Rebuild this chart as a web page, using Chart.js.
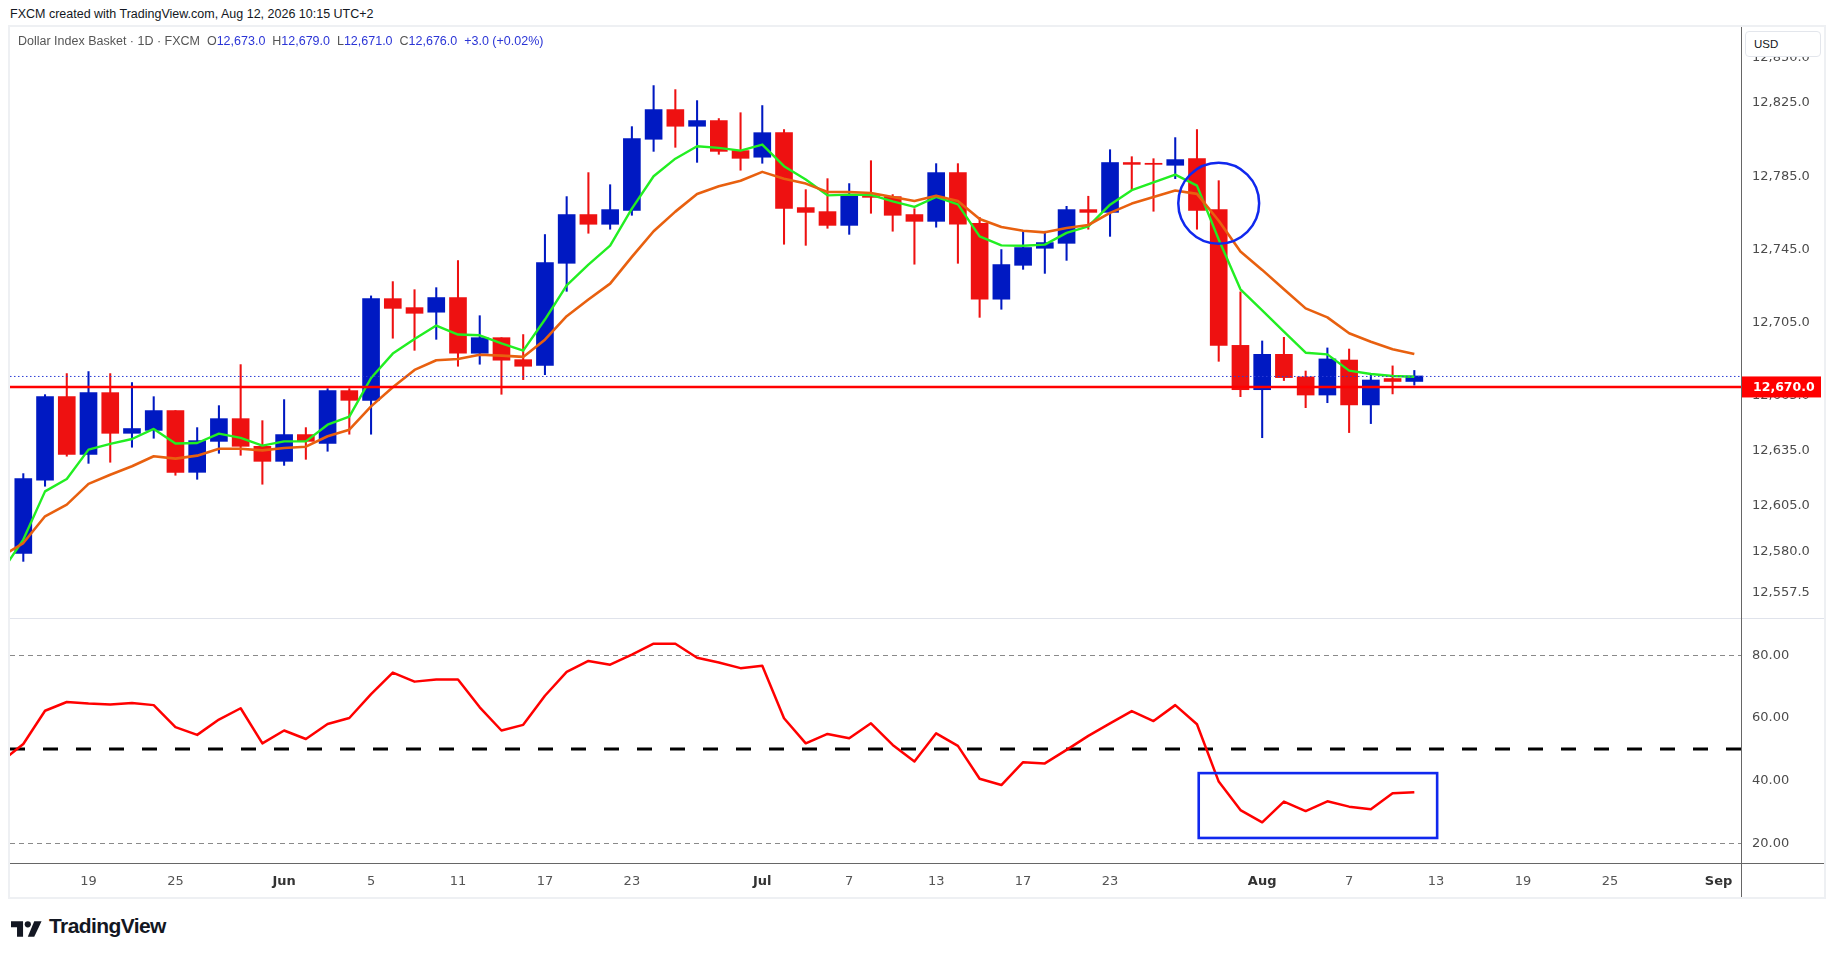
<!DOCTYPE html>
<html>
<head>
<meta charset="utf-8">
<title>Dollar Index Basket - 1D</title>
<script src="https://cdn.jsdelivr.net/npm/chart.js@4.4.1/dist/chart.umd.min.js"></script>
<style>
  body { margin: 0; background: #fff; width: 1835px; height: 959px; position: relative; overflow: hidden;
         font-family: "Liberation Sans", Arial, sans-serif; }
  .abs { position: absolute; }
  #header { left: 10px; top: 7px; font-size: 12.5px; color: #131722; white-space: pre; }
  #frame { left: 8px; top: 25px; width: 1814px; height: 870px; border: 2px solid #eef0f3; }
  #legend { left: 18px; top: 34px; font-size: 12.5px; color: #555; white-space: pre; z-index: 5; }
  #legend .v { color: #2b35d6; }
  #priceCanvas { left: 10px; top: 27px; }
  #rsiCanvas { left: 10px; top: 619px; }
  #axisV { left: 1741px; top: 27px; width: 1px; height: 870px; background: #666; z-index: 4; }
  #axisH { left: 10px; top: 863px; width: 1814px; height: 1px; background: #666; z-index: 4; }
  #paneSep { left: 10px; top: 618px; width: 1814px; height: 1px; background: #e0e3eb; z-index: 4; }
  #usd { left: 1745px; top: 31px; width: 74px; height: 24px; border: 1px solid #e3e6ec; border-radius: 4px;
         background: #fff; font-size: 11.5px; color: #131722; line-height: 24px; padding-left: 0; z-index: 6; }
  #usd span { margin-left: 8px; }
  #logoText { left: 49px; top: 914px; font-size: 21px; font-weight: bold; color: #131722; letter-spacing: -0.6px; }
</style>
</head>
<body>
<div id="header" class="abs">FXCM created with TradingView.com, Aug 12, 2026 10:15 UTC+2</div>
<div id="frame" class="abs"></div>
<canvas id="priceCanvas" class="abs" width="1814" height="592"></canvas>
<canvas id="rsiCanvas" class="abs" width="1814" height="279"></canvas>
<div id="paneSep" class="abs"></div>
<div id="axisV" class="abs"></div>
<div id="axisH" class="abs"></div>
<div id="legend" class="abs"></div>
<div id="usd" class="abs"><span>USD</span></div>
<svg class="abs" style="left:11px;top:921px" width="31" height="16" viewBox="0 0 36 18">
  <path d="M0 0h14v18H7V7H0z" fill="#131722"/>
  <circle cx="19.5" cy="3.6" r="3.6" fill="#131722"/>
  <path d="M27 18h-7.5L27 0h8.5z" fill="#131722"/>
</svg>
<div id="logoText" class="abs">TradingView</div>

<script>
// daily bars, May 14 .. Aug 12 (Mon-Fri), bar index 0..64
var opens = [
  12579.2, 12619.1, 12664.7, 12633.2, 12666.9, 12644.7, 12646.3, 12657.1, 12623.4, 12640.3,
  12652.7, 12637.6, 12629.4, 12644.0, 12639.2, 12668.0, 12662.7, 12718.2, 12713.3, 12710.8,
  12718.8, 12688.4, 12696.9, 12684.9, 12681.8, 12737.5, 12764.1, 12758.8, 12766.4, 12805.2,
  12821.4, 12812.3, 12815.4, 12799.0, 12795.4, 12808.8, 12767.9, 12765.7, 12758.2, 12774.4,
  12773.9, 12764.1, 12760.4, 12787.0, 12759.3, 12717.9, 12736.4, 12745.7, 12748.4, 12766.8,
  12765.3, 12792.5, 12792.1, 12791.0, 12794.6, 12766.8, 12692.7, 12668.5, 12687.8, 12675.5,
  12665.6, 12684.7, 12660.2, 12674.6, 12673.0
];
var highs = [
  12622.7, 12665.8, 12677.3, 12678.4, 12677.3, 12672.4, 12664.7, 12657.1, 12647.8, 12659.8,
  12682.2, 12651.6, 12663.1, 12647.8, 12669.1, 12669.1, 12719.7, 12727.5, 12723.1, 12724.2,
  12739.0, 12708.9, 12696.9, 12698.6, 12753.2, 12773.9, 12787.0, 12780.4, 12812.1, 12834.5,
  12832.3, 12826.3, 12816.5, 12819.7, 12823.6, 12810.5, 12777.7, 12783.7, 12781.0, 12793.5,
  12775.0, 12767.3, 12791.9, 12791.9, 12762.6, 12745.0, 12755.0, 12755.0, 12768.6, 12774.1,
  12799.5, 12795.7, 12794.6, 12806.1, 12810.5, 12782.6, 12721.9, 12695.1, 12697.1, 12678.7,
  12691.3, 12690.7, 12676.6, 12681.5, 12679.0
];
var lows = [
  12574.8, 12615.8, 12632.2, 12628.3, 12628.9, 12637.1, 12642.0, 12621.8, 12619.6, 12633.8,
  12632.7, 12616.9, 12627.2, 12630.5, 12634.9, 12644.2, 12644.2, 12696.6, 12690.0, 12696.0,
  12681.3, 12682.4, 12666.0, 12674.0, 12676.7, 12722.2, 12753.9, 12756.1, 12763.7, 12798.6,
  12800.8, 12792.6, 12797.0, 12788.3, 12792.1, 12747.9, 12747.3, 12756.6, 12753.3, 12764.8,
  12755.0, 12737.0, 12757.2, 12737.5, 12708.0, 12712.4, 12734.2, 12732.0, 12739.1, 12756.1,
  12752.2, 12777.5, 12765.9, 12783.7, 12756.1, 12684.0, 12664.7, 12642.3, 12673.5, 12658.7,
  12661.4, 12645.1, 12650.0, 12666.2, 12671.0
];
var closes = [
  12620.0, 12664.7, 12633.2, 12666.9, 12644.7, 12647.3, 12657.1, 12623.4, 12640.7, 12652.7,
  12637.6, 12629.4, 12644.0, 12640.3, 12668.0, 12662.7, 12718.2, 12712.9, 12710.2, 12718.8,
  12688.4, 12696.9, 12684.6, 12681.3, 12737.9, 12764.1, 12758.8, 12766.8, 12805.6, 12821.4,
  12812.3, 12815.4, 12798.6, 12794.8, 12808.8, 12767.5, 12765.3, 12758.2, 12774.4, 12773.5,
  12763.7, 12760.4, 12787.0, 12758.8, 12717.9, 12736.8, 12746.1, 12748.8, 12766.8, 12765.3,
  12792.5, 12791.5, 12791.5, 12794.1, 12766.4, 12692.7, 12668.5, 12687.8, 12675.1, 12665.6,
  12685.3, 12660.2, 12673.8, 12673.0, 12676.0
];

// moving averages and RSI start one bar before the first visible candle
var firstLineBar = -1;
var fastMA = [
  12569.0, 12586.7, 12613.0, 12619.8, 12635.8, 12638.9, 12641.6, 12647.1, 12639.1, 12639.4,
  12644.5, 12642.2, 12638.0, 12640.3, 12640.3, 12649.4, 12653.8, 12674.9, 12688.2, 12696.2,
  12703.5, 12698.6, 12698.2, 12693.8, 12689.8, 12706.8, 12725.5, 12736.8, 12747.1, 12767.3,
  12785.0, 12794.6, 12801.4, 12800.5, 12799.0, 12802.3, 12790.5, 12783.2, 12774.6, 12775.0,
  12774.8, 12771.3, 12768.3, 12773.7, 12769.7, 12752.2, 12747.3, 12747.1, 12747.7, 12754.1,
  12757.7, 12769.5, 12777.4, 12781.7, 12785.9, 12779.9, 12750.5, 12723.3, 12711.8, 12700.2,
  12688.7, 12687.8, 12678.9, 12677.1, 12676.0, 12675.6
];
var slowMA = [
  12577.5, 12584.8, 12599.4, 12605.8, 12617.1, 12622.1, 12626.7, 12632.2, 12630.9, 12632.5,
  12636.3, 12636.3, 12635.4, 12636.7, 12637.4, 12643.1, 12646.7, 12659.4, 12669.8, 12679.3,
  12684.6, 12685.3, 12687.6, 12687.1, 12686.4, 12695.8, 12708.6, 12717.7, 12726.4, 12741.0,
  12755.0, 12765.7, 12775.3, 12779.5, 12782.6, 12787.4, 12783.7, 12781.0, 12776.4, 12776.4,
  12775.9, 12773.7, 12771.5, 12774.4, 12771.5, 12761.7, 12757.3, 12755.3, 12754.4, 12756.8,
  12758.4, 12765.0, 12770.1, 12773.7, 12777.2, 12775.4, 12760.7, 12743.9, 12733.9, 12723.3,
  12712.9, 12708.0, 12699.3, 12694.7, 12690.6, 12688.0
];
var rsiValues = [
  46.1, 51.7, 62.3, 65.1, 64.6, 64.3, 64.8, 64.1, 57.1, 54.6,
  59.5, 63.1, 51.9, 56.0, 53.3, 58.1, 60.0, 67.6, 74.5, 71.6,
  72.3, 72.3, 63.4, 56.0, 57.8, 67.1, 74.7, 78.2, 77.0, 80.2,
  83.7, 83.7, 79.2, 77.7, 75.9, 76.7, 59.9, 51.9, 54.9, 53.5,
  58.3, 51.4, 46.1, 55.1, 51.1, 40.6, 38.6, 45.9, 45.5, 49.8,
  54.3, 58.3, 62.2, 59.0, 64.1, 58.0, 39.7, 30.6, 26.7, 33.3,
  30.3, 33.4, 31.7, 30.9, 36.0, 36.3
];

var priceTicks = [12557.5, 12580, 12605, 12635, 12665, 12705, 12745, 12785, 12825, 12850];
var rsiTicks = [20, 40, 60, 80];
var rsiLevels = [80, 50, 20];
var timeTickBars = [3, 7, 12, 16, 20, 24, 28, 34, 38, 42, 46, 50, 57, 61, 65, 69, 73, 78];
var timeTickLabels = ['19', '25', 'Jun', '5', '11', '17', '23', 'Jul', '7', '13', '17', '23', 'Aug', '7', '13', '19', '25', 'Sep'];
var monthLabels = ['Jun', 'Jul', 'Aug', 'Sep'];

var levelPrice = 12670;                                           // drawn horizontal level
var circleMark = { bar: 55, price: 12770.3, radiusBars: 1.86 };   // circle drawing
var boxMark = { fromBar: 54.08, toBar: 65.05, top: 42.4, bottom: 21.7 }; // rectangle on RSI

var UP = '#0019c2', DOWN = '#ee1111';
var X_MIN = -0.612, X_MAX = 79.03;

Chart.defaults.font.family = '"DejaVu Sans", sans-serif';

function fmtPrice(v) {
  return v.toLocaleString('en-US', { minimumFractionDigits: 1, maximumFractionDigits: 1 });
}

// keep the plot area the full canvas height: no label padding from the axes
function noPad(s) {
  s.paddingTop = 0; s.paddingBottom = 0; s.paddingLeft = 0; s.paddingRight = 0;
}

// legend row from the last bar
(function() {
  var n = closes.length - 1;
  var chg = closes[n] - closes[n - 1];
  var pct = chg / closes[n - 1] * 100;
  var sign = chg >= 0 ? '+' : '';
  document.getElementById('legend').innerHTML =
    'Dollar Index Basket · 1D · FXCM  ' +
    'O<span class="v">' + fmtPrice(opens[n]) + '</span>  ' +
    'H<span class="v">' + fmtPrice(highs[n]) + '</span>  ' +
    'L<span class="v">' + fmtPrice(lows[n]) + '</span>  ' +
    'C<span class="v">' + fmtPrice(closes[n]) + '</span>  ' +
    '<span class="v">' + sign + chg.toFixed(1) + ' (' + sign + pct.toFixed(2) + '%)</span>';
})();

var candleColors = closes.map(function(c, i) { return c >= opens[i] ? UP : DOWN; });
var bodies = opens.map(function(o, i) { return { x: i, y: [o, closes[i]] }; });
var wicks = lows.map(function(l, i) { return { x: i, y: [l, highs[i]] }; });
function toPoints(arr) {
  return arr.map(function(v, i) { return { x: i + firstLineBar, y: v }; });
}

var pricePlugin = {
  id: 'priceDrawings',
  afterDatasetsDraw: function(chart) {
    var ctx = chart.ctx, a = chart.chartArea, xs = chart.scales.x, ys = chart.scales.y;
    ctx.save();
    ctx.beginPath(); ctx.rect(a.left, a.top, a.right - a.left, a.bottom - a.top); ctx.clip();
    // last close dotted line
    var yc = ys.getPixelForValue(closes[closes.length - 1]);
    ctx.strokeStyle = '#2c3ed6'; ctx.lineWidth = 1; ctx.setLineDash([1.5, 2.5]);
    ctx.beginPath(); ctx.moveTo(a.left, yc + 0.5); ctx.lineTo(a.right, yc + 0.5); ctx.stroke();
    // horizontal level
    var yl = ys.getPixelForValue(levelPrice);
    ctx.setLineDash([]); ctx.strokeStyle = '#ff0000'; ctx.lineWidth = 2.5;
    ctx.beginPath(); ctx.moveTo(a.left, yl); ctx.lineTo(a.right, yl); ctx.stroke();
    // circle
    var cx = xs.getPixelForValue(circleMark.bar), cy = ys.getPixelForValue(circleMark.price);
    var r = xs.getPixelForValue(circleMark.bar + circleMark.radiusBars) - cx;
    ctx.strokeStyle = '#1028ee'; ctx.lineWidth = 2.5;
    ctx.beginPath(); ctx.arc(cx, cy, r, 0, Math.PI * 2); ctx.stroke();
    ctx.restore();
  },
  afterDraw: function(chart) {
    var ctx = chart.ctx, a = chart.chartArea, ys = chart.scales.y;
    var yl = ys.getPixelForValue(levelPrice);
    ctx.save();
    ctx.fillStyle = '#ff0000';
    ctx.fillRect(a.right, yl - 10.5, 80, 21);
    ctx.fillStyle = '#ffffff'; ctx.font = 'bold 12.5px "DejaVu Sans"';
    ctx.textBaseline = 'middle'; ctx.textAlign = 'left';
    ctx.fillText(fmtPrice(levelPrice), a.right + 12, yl + 0.5);
    ctx.restore();
  }
};

new Chart(document.getElementById('priceCanvas'), {
  type: 'bar',
  data: {
    datasets: [
      { type: 'line', data: toPoints(slowMA), borderColor: '#e8600f', borderWidth: 2.6,
        pointRadius: 0, tension: 0, clip: 0, order: 0, borderJoinStyle: 'round' },
      { type: 'line', data: toPoints(fastMA), borderColor: '#22ee22', borderWidth: 2.4,
        pointRadius: 0, tension: 0, clip: 0, order: 1, borderJoinStyle: 'round' },
      { data: bodies, backgroundColor: candleColors, barThickness: 17, grouped: false, order: 2 },
      { data: wicks, backgroundColor: candleColors, barThickness: 1.4, grouped: false, order: 3 }
    ]
  },
  options: {
    responsive: false,
    animation: false,
    layout: { padding: 0 },
    plugins: { legend: { display: false }, tooltip: { enabled: false } },
    scales: {
      x: { type: 'linear', min: X_MIN, max: X_MAX, offset: false, display: false },
      y: {
        type: 'linear', position: 'right', min: 12543.34, max: 12866.48, bounds: 'data',
        afterFit: function(s) { s.width = 83; noPad(s); },
        afterBuildTicks: function(s) { s.ticks = priceTicks.map(function(v) { return { value: v }; }); },
        grid: { display: false, drawTicks: false },
        border: { display: false },
        ticks: { padding: 11, color: '#4c4c4c', font: { size: 13 }, autoSkip: false,
                 callback: function(v) { return fmtPrice(v); } }
      }
    }
  },
  plugins: [pricePlugin]
});

var rsiPlugin = {
  id: 'rsiDrawings',
  beforeDatasetsDraw: function(chart) {
    var ctx = chart.ctx, a = chart.chartArea, ys = chart.scales.y;
    ctx.save();
    rsiLevels.forEach(function(lv) {
      var y = Math.round(ys.getPixelForValue(lv));
      if (lv === 50) {
        ctx.strokeStyle = '#000'; ctx.lineWidth = 3; ctx.setLineDash([15, 18]);
      } else {
        ctx.strokeStyle = '#8a8a8a'; ctx.lineWidth = 1; ctx.setLineDash([5, 4]);
        y += 0.5;
      }
      ctx.beginPath(); ctx.moveTo(a.left, y); ctx.lineTo(a.right, y); ctx.stroke();
    });
    ctx.restore();
  },
  afterDatasetsDraw: function(chart) {
    var ctx = chart.ctx, xs = chart.scales.x, ys = chart.scales.y;
    var x1 = xs.getPixelForValue(boxMark.fromBar), x2 = xs.getPixelForValue(boxMark.toBar);
    var y1 = ys.getPixelForValue(boxMark.top), y2 = ys.getPixelForValue(boxMark.bottom);
    ctx.save();
    ctx.strokeStyle = '#1028ee'; ctx.lineWidth = 2.6;
    ctx.strokeRect(x1, y1, x2 - x1, y2 - y1);
    ctx.restore();
  }
};

new Chart(document.getElementById('rsiCanvas'), {
  type: 'line',
  data: {
    datasets: [
      { data: toPoints(rsiValues), borderColor: '#ff0000', borderWidth: 2.5, pointRadius: 0,
        tension: 0, clip: 0, borderJoinStyle: 'round' }
    ]
  },
  options: {
    responsive: false,
    animation: false,
    layout: { padding: 0 },
    plugins: { legend: { display: false }, tooltip: { enabled: false } },
    scales: {
      x: {
        type: 'linear', min: X_MIN, max: X_MAX, offset: false, position: 'bottom', bounds: 'data',
        afterFit: function(s) { s.height = 35; noPad(s); },
        afterBuildTicks: function(s) { s.ticks = timeTickBars.map(function(v) { return { value: v }; }); },
        grid: { display: false, drawTicks: false },
        border: { display: false },
        ticks: {
          padding: 11, autoSkip: false, maxRotation: 0,
          callback: function(v) { return timeTickLabels[timeTickBars.indexOf(v)]; },
          font: function(c) {
            var lab = timeTickLabels[c.index];
            return { size: 13, weight: monthLabels.indexOf(lab) >= 0 ? 'bold' : 'normal' };
          },
          color: function(c) {
            var lab = timeTickLabels[c.index];
            return monthLabels.indexOf(lab) >= 0 ? '#333' : '#555';
          }
        }
      },
      y: {
        type: 'linear', position: 'right', min: 13.71, max: 91.59, bounds: 'data',
        afterFit: function(s) { s.width = 83; noPad(s); },
        afterBuildTicks: function(s) { s.ticks = rsiTicks.map(function(v) { return { value: v }; }); },
        grid: { display: false, drawTicks: false },
        border: { display: false },
        ticks: { padding: 11, color: '#4c4c4c', font: { size: 13 }, autoSkip: false,
                 callback: function(v) { return v.toFixed(2); } }
      }
    }
  },
  plugins: [rsiPlugin]
});
</script>
</body>
</html>
